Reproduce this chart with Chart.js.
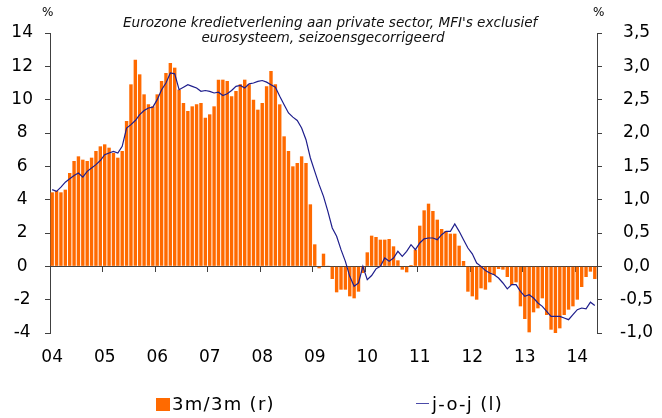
<!DOCTYPE html>
<html>
<head>
<meta charset="utf-8">
<script src="https://cdn.jsdelivr.net/npm/chart.js@4.4.1/dist/chart.umd.min.js"></script>
<style>
    html, body { margin: 0; padding: 0; background: #fff; }
    #wrap { position: relative; width: 662px; height: 418px; font-family: "DejaVu Sans", Verdana, sans-serif; color: #000; }
    #chart { position: absolute; left: 0; top: 0; }
    .title { position: absolute; left: 123px; width: 400px; top: 15px; text-align: center; font-size: 13.6px; line-height: 15px; font-style: italic; color: #111; white-space: nowrap; }
    .unit { position: absolute; top: 5px; font-size: 12px; }
    .leg { position: absolute; top: 394px; font-size: 18px; line-height: 20px; letter-spacing: 1.3px; white-space: nowrap; }
    .leg .sw { position: absolute; left: -16px; top: 4px; width: 14px; height: 13px; background: #ff6a00; }
    .leg .ln { position: absolute; left: -16px; top: 9px; width: 13px; height: 1px; background: #4a4aa8; }
</style>
</head>
<body>
<div id="wrap">
    <canvas id="chart" width="662" height="418"></canvas>
    <div class="title">Eurozone kredietverlening aan private sector, MFI's exclusief<br>eurosysteem, seizoensgecorrigeerd</div>
    <div class="unit" style="left:42px">%</div>
    <div class="unit" style="left:593px">%</div>
    <div class="leg" style="left:172px"><span class="sw"></span><span id="leg0"></span></div>
    <div class="leg" style="left:432px"><span class="ln"></span><span id="leg1"></span></div>
</div>
<script>
    // jaartallen voor de x-as, maanden jan 2004 - mei 2014
    const years = ["04", "05", "06", "07", "08", "09", "10", "11", "12", "13", "14"];
    const seriesNames = ["3m/3m (r)", "j-o-j (l)"];

    // 3m/3m, rechter as (%)
    const barValues = [
        1.11, 1.13, 1.11, 1.15, 1.40, 1.58, 1.65, 1.60, 1.58, 1.63, 1.73, 1.80,
        1.83, 1.78, 1.70, 1.63, 1.73, 2.18, 2.73, 3.10, 2.88, 2.58, 2.43, 2.40,
        2.58, 2.78, 2.90, 3.05, 2.98, 2.65, 2.45, 2.33, 2.40, 2.43, 2.45, 2.23,
        2.28, 2.40, 2.80, 2.80, 2.78, 2.55, 2.63, 2.73, 2.80, 2.73, 2.50, 2.35,
        2.45, 2.70, 2.93, 2.73, 2.43, 1.95, 1.73, 1.50, 1.55, 1.65, 1.55, 0.93,
        0.33, -0.03, 0.19, 0.01, -0.19, -0.39, -0.35, -0.35, -0.45, -0.48, -0.38, -0.10,
        0.21, 0.46, 0.44, 0.40, 0.40, 0.41, 0.30, 0.09, -0.05, -0.09, 0.02, 0.25,
        0.61, 0.84, 0.94, 0.83, 0.70, 0.56, 0.53, 0.49, 0.49, 0.31, 0.08, -0.38,
        -0.45, -0.50, -0.33, -0.35, -0.24, -0.13, -0.04, -0.05, -0.16, -0.28, -0.24, -0.60,
        -0.79, -0.99, -0.69, -0.63, -0.48, -0.73, -0.95, -1.00, -0.93, -0.73, -0.65, -0.60,
        -0.50, -0.31, -0.16, -0.08, -0.19
    ];

    // j-o-j, linker as (%)
    const lineValues = [
        4.6, 4.5, 4.75, 5.05, 5.25, 5.45, 5.6, 5.35, 5.7, 5.9, 6.1, 6.35,
        6.7, 6.8, 6.9, 6.8, 7.2, 8.3, 8.5, 8.75, 9.1, 9.35, 9.5, 9.55,
        10.0, 10.6, 11.0, 11.6, 11.55, 10.6, 10.75, 10.9, 10.8, 10.7, 10.5, 10.55,
        10.5, 10.4, 10.45, 10.25, 10.35, 10.55, 10.8, 10.85, 10.7, 10.95, 11.0, 11.1,
        11.15, 11.05, 10.9, 10.75, 10.2, 9.7, 9.2, 8.95, 8.75, 8.3, 7.6, 6.5,
        5.7, 4.9, 4.2, 3.3, 2.3, 1.8, 1.0, 0.3, -0.6, -1.2, -1.0, 0.0,
        -0.8, -0.55, -0.15, 0.0, 0.5, 0.3, 0.5, 0.9, 0.6, 0.9, 1.3, 1.0,
        1.4, 1.65, 1.7, 1.7, 1.6, 1.9, 2.1, 2.1, 2.55, 2.1, 1.6, 1.1,
        0.75, 0.2, 0.0, -0.25, -0.4, -0.5, -0.7, -1.0, -1.35, -1.1, -1.1, -1.5,
        -1.8, -1.7, -1.9, -2.2, -2.4, -2.7, -3.0, -3.0, -3.0, -3.1, -3.2, -2.9,
        -2.6, -2.5, -2.55, -2.15, -2.35
    ];

    const leftTicks = { min: -4, max: 14, step: 2 };
    const rightTicks = { min: -1, max: 3.5, step: 0.5 };

    const colors = { bar: "#ff6a00", line: "#1e1e8c", axis: "#404040" };

    const labels = [];
    years.forEach((yy) => {
        for (let m = 1; m <= 12; m++) labels.push(yy + "-" + String(m).padStart(2, "0"));
    });
    labels.length = barValues.length;

    document.getElementById("leg0").textContent = seriesNames[0];
    document.getElementById("leg1").textContent = seriesNames[1];

    Chart.defaults.font.family = '"DejaVu Sans", Verdana, sans-serif';
    Chart.defaults.color = "#000";

    new Chart(document.getElementById("chart"), {
        type: "bar",
        data: {
            labels,
            datasets: [
                {
                    label: seriesNames[0],
                    data: barValues,
                    backgroundColor: colors.bar,
                    yAxisID: "y1",
                    xAxisID: "x",
                    barPercentage: 0.78,
                    categoryPercentage: 1,
                    order: 2
                },
                {
                    type: "line",
                    label: seriesNames[1],
                    data: lineValues,
                    borderColor: colors.line,
                    borderWidth: 1.2,
                    pointRadius: 0,
                    tension: 0,
                    yAxisID: "y",
                    xAxisID: "x",
                    order: 1
                }
            ]
        },
        options: {
            responsive: false,
            animation: false,
            devicePixelRatio: 1,
            layout: { padding: { top: 33, left: 0, right: 0, bottom: 0 } },
            plugins: { legend: { display: false }, tooltip: { enabled: false } },
            scales: {
                x: {
                    type: "category",
                    position: { y: 0 },
                    offset: true,
                    grid: {
                        offset: true,
                        drawOnChartArea: false,
                        tickLength: 5,
                        tickColor: (ctx) => (ctx.index % 12 === 0 ? colors.axis : "rgba(0,0,0,0)")
                    },
                    border: { display: true, color: colors.axis, width: 1 },
                    ticks: { display: false },
                    afterFit: (s) => { s.height = 0; }
                },
                x2: {
                    type: "category",
                    position: "bottom",
                    offset: true,
                    grid: { display: false, drawTicks: false },
                    border: { display: false },
                    ticks: {
                        autoSkip: false,
                        maxRotation: 0,
                        padding: 14,
                        font: { size: 17 },
                        callback: (v, i) => (i % 12 === 0 ? years[i / 12] : "")
                    },
                    afterFit: (s) => { s.height = 85; }
                },
                y: {
                    position: "left",
                    min: leftTicks.min,
                    max: leftTicks.max,
                    grid: { drawOnChartArea: false, tickLength: 5, tickColor: colors.axis },
                    border: { display: true, color: colors.axis, width: 1 },
                    ticks: { stepSize: leftTicks.step, padding: 12, crossAlign: "center", font: { size: 17 } },
                    afterFit: (s) => { s.width = 50; }
                },
                y1: {
                    position: "right",
                    min: rightTicks.min,
                    max: rightTicks.max,
                    grid: { drawOnChartArea: false, tickLength: 5, tickColor: colors.axis },
                    border: { display: true, color: colors.axis, width: 1 },
                    ticks: {
                        stepSize: rightTicks.step,
                        padding: 18,
                        crossAlign: "center",
                        font: { size: 17 },
                        callback: (v) => Number(v).toFixed(1).replace(".", ",")
                    },
                    afterFit: (s) => { s.width = 65; }
                }
            }
        }
    });
</script>
</body>
</html>
